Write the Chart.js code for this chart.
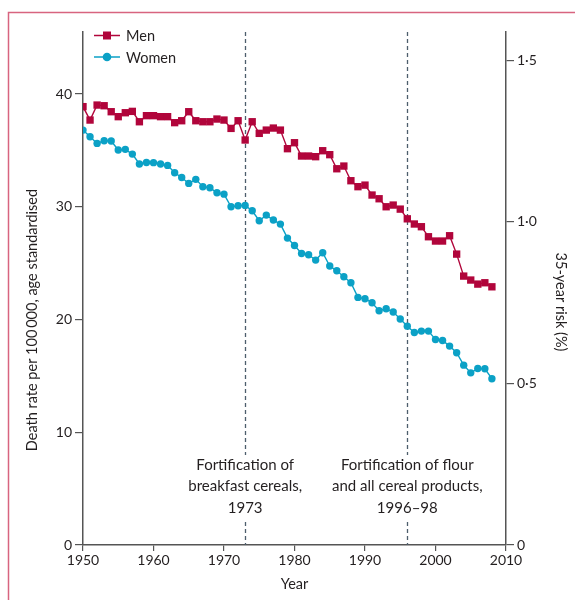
<!DOCTYPE html>
<html>
<head>
<meta charset="utf-8">
<script src="https://cdn.jsdelivr.net/npm/chart.js@4.4.1/dist/chart.umd.min.js"></script>
<style>
  body { margin: 0; background: #fff; }
</style>
</head>
<body>
<canvas id="chart" width="575" height="600"></canvas>
<script>
// Years on the x axis
const years = [1950, 1951, 1952, 1953, 1954, 1955, 1956, 1957, 1958, 1959,
  1960, 1961, 1962, 1963, 1964, 1965, 1966, 1967, 1968, 1969,
  1970, 1971, 1972, 1973, 1974, 1975, 1976, 1977, 1978, 1979,
  1980, 1981, 1982, 1983, 1984, 1985, 1986, 1987, 1988, 1989,
  1990, 1991, 1992, 1993, 1994, 1995, 1996, 1997, 1998, 1999,
  2000, 2001, 2002, 2003, 2004, 2005, 2006, 2007, 2008];

// Death rate per 100 000, age standardised
const men = [38.88, 37.69, 39.02, 38.96, 38.43, 37.99, 38.34, 38.46, 37.54, 38.08,
  38.08, 37.99, 37.99, 37.46, 37.63, 38.43, 37.63, 37.54, 37.54, 37.78,
  37.69, 36.95, 37.63, 35.92, 37.54, 36.51, 36.80, 36.98, 36.80, 35.15,
  35.68, 34.50, 34.50, 34.44, 34.97, 34.62, 33.37, 33.61, 32.31, 31.78,
  31.92, 31.04, 30.71, 30.00, 30.15, 29.79, 28.93, 28.47, 28.23, 27.34,
  26.96, 26.96, 27.43, 25.80, 23.85, 23.50, 23.14, 23.26, 22.90];

const women = [36.80, 36.21, 35.62, 35.86, 35.83, 35.03, 35.09, 34.67, 33.79, 33.93,
  33.91, 33.79, 33.67, 33.02, 32.60, 32.07, 32.43, 31.78, 31.69, 31.24,
  31.12, 30.00, 30.09, 30.12, 29.64, 28.76, 29.26, 28.82, 28.46, 27.22,
  26.57, 25.86, 25.74, 25.27, 25.92, 24.74, 24.32, 23.79, 23.26, 21.96,
  21.84, 21.49, 20.78, 20.96, 20.66, 20.05, 19.41, 18.85, 18.97, 18.97,
  18.23, 18.14, 17.64, 17.05, 15.95, 15.27, 15.66, 15.63, 14.75];

// Tick labels
const xTicks = [1950, 1960, 1970, 1980, 1990, 2000, 2010];
const leftTicks = [0, 10, 20, 30, 40];
const rightTicks = [0, 0.5, 1.0, 1.5];

// Fortification markers and notes
const markers = [1973, 1996];
const notes = [
  ['Fortification of', 'breakfast cereals,', '1973'],
  ['Fortification of flour', 'and all cereal products,', '1996\u201398']
];

const MEN_COLOR = '#b1053b';
const WOMEN_COLOR = '#0ba1c6';
const AXIS_COLOR = '#555';
const TEXT_COLOR = '#231f20';
const FONT = 'Lato, "Open Sans", sans-serif';

const leftMax = 45.5;
const riskPerRate = 28.67; // 1% risk on the right axis = 28.67 on the left

const tickFont = { family: FONT, size: 14 };

// Extra drawing: frame, dashed markers, notes, titles, legend
const extras = {
  id: 'extras',
  beforeDatasetsDraw(chart) {
    const { ctx, chartArea: a, scales: { x } } = chart;
    ctx.save();
    ctx.strokeStyle = '#4d5e6c';
    ctx.lineWidth = 1.3;
    ctx.setLineDash([4, 3]);
    markers.forEach(m => {
      const px = Math.round(x.getPixelForValue(m)) + 0.5;
      ctx.beginPath();
      ctx.moveTo(px, a.top);
      ctx.lineTo(px, a.bottom);
      ctx.stroke();
    });
    ctx.setLineDash([]);

    // notes with white background over the dashed lines
    ctx.font = '15px ' + FONT;
    ctx.textAlign = 'center';
    ctx.textBaseline = 'middle';
    markers.forEach((m, i) => {
      const px = x.getPixelForValue(m);
      ctx.fillStyle = '#fff';
      ctx.fillRect(px - 8, 455, 16, 67);
      ctx.fillStyle = TEXT_COLOR;
      notes[i].forEach((line, j) => {
        ctx.fillText(line, px, 465 + j * 21.5);
      });
    });
    ctx.restore();
  },
  afterDraw(chart) {
    const { ctx, chartArea: a } = chart;
    ctx.save();

    // pink frame
    ctx.strokeStyle = '#d8647f';
    ctx.lineWidth = 1.5;
    ctx.beginPath();
    ctx.moveTo(575, 12.5);
    ctx.lineTo(8.5, 12.5);
    ctx.lineTo(8.5, 600);
    ctx.stroke();

    ctx.fillStyle = TEXT_COLOR;
    ctx.font = '14.5px ' + FONT;
    ctx.textAlign = 'center';
    ctx.textBaseline = 'middle';

    // x title
    ctx.fillText('Year', (a.left + a.right) / 2, 584);

    // left title
    ctx.save();
    ctx.translate(32, 320);
    ctx.rotate(-Math.PI / 2);
    ctx.fillText('Death rate per 100\u2009000, age standardised', 0, 0);
    ctx.restore();

    // right title
    ctx.save();
    ctx.translate(561, 302);
    ctx.rotate(Math.PI / 2);
    ctx.fillText('35-year risk (%)', 0, 0);
    ctx.restore();

    // legend
    const items = [
      { label: 'Men', color: MEN_COLOR, shape: 'rect', y: 35.5 },
      { label: 'Women', color: WOMEN_COLOR, shape: 'circle', y: 57 }
    ];
    items.forEach(it => {
      ctx.strokeStyle = it.color;
      ctx.fillStyle = it.color;
      ctx.lineWidth = 1.5;
      ctx.beginPath();
      ctx.moveTo(94, it.y);
      ctx.lineTo(120, it.y);
      ctx.stroke();
      ctx.beginPath();
      if (it.shape === 'rect') {
        ctx.rect(107 - 4, it.y - 4, 8, 8);
      } else {
        ctx.arc(107, it.y, 4.3, 0, Math.PI * 2);
      }
      ctx.fill();
      ctx.fillStyle = TEXT_COLOR;
      ctx.textAlign = 'left';
      ctx.fillText(it.label, 126, it.y + 1);
    });

    ctx.restore();
  }
};

const ctx = document.getElementById('chart').getContext('2d');
new Chart(ctx, {
  type: 'line',
  data: {
    datasets: [
      {
        label: 'Men',
        data: years.map((yr, i) => ({ x: yr, y: men[i] })),
        borderColor: MEN_COLOR,
        backgroundColor: MEN_COLOR,
        borderWidth: 1.4,
        pointStyle: 'rect',
        pointRadius: 5.2,
        pointBorderWidth: 0,
        tension: 0,
        yAxisID: 'y'
      },
      {
        label: 'Women',
        data: years.map((yr, i) => ({ x: yr, y: women[i] })),
        borderColor: WOMEN_COLOR,
        backgroundColor: WOMEN_COLOR,
        borderWidth: 1.4,
        pointStyle: 'circle',
        pointRadius: 3.7,
        pointBorderWidth: 0,
        tension: 0,
        yAxisID: 'y'
      }
    ]
  },
  options: {
    responsive: false,
    animation: false,
    layout: { padding: { top: 32, left: 0, right: 0, bottom: 0 } },
    plugins: {
      legend: { display: false },
      tooltip: { enabled: false }
    },
    scales: {
      x: {
        type: 'linear',
        min: 1950,
        max: 2010,
        afterBuildTicks: s => { s.ticks = xTicks.map(v => ({ value: v })); },
        afterFit: s => { s.height = 55; },
        grid: { drawOnChartArea: false, drawTicks: true, tickLength: 6, color: AXIS_COLOR, lineWidth: 1.2 },
        border: { display: true, color: AXIS_COLOR, width: 1.5 },
        ticks: { font: tickFont, color: TEXT_COLOR, padding: 1, maxRotation: 0, callback: v => String(v) }
      },
      y: {
        position: 'left',
        min: 0,
        max: leftMax,
        afterBuildTicks: s => { s.ticks = leftTicks.map(v => ({ value: v })); },
        afterFit: s => { s.width = 83; },
        grid: { drawOnChartArea: false, drawTicks: true, tickLength: 8, color: AXIS_COLOR, lineWidth: 1.2 },
        border: { display: true, color: AXIS_COLOR, width: 1.5 },
        ticks: { font: tickFont, color: TEXT_COLOR, padding: 3, callback: v => String(v) }
      },
      y2: {
        position: 'right',
        min: 0,
        max: leftMax / riskPerRate,
        afterBuildTicks: s => { s.ticks = rightTicks.map(v => ({ value: v })); },
        afterFit: s => { s.width = 69; },
        grid: { drawOnChartArea: false, drawTicks: true, tickLength: 8, color: AXIS_COLOR, lineWidth: 1.2 },
        border: { display: true, color: AXIS_COLOR, width: 1.5 },
        ticks: {
          font: tickFont,
          color: TEXT_COLOR,
          padding: 3,
          callback: v => v === 0 ? '0' : v.toFixed(1).replace('.', '\u00b7')
        }
      }
    }
  },
  plugins: [extras]
});
</script>
</body>
</html>
